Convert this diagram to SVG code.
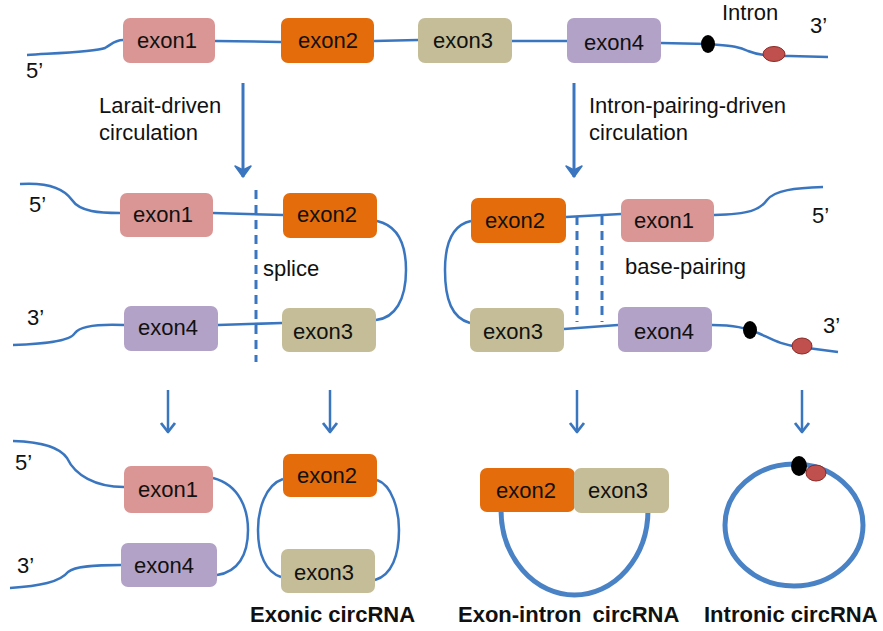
<svg xmlns="http://www.w3.org/2000/svg" width="883" height="631" viewBox="0 0 883 631">
<style>
.e1{fill:#d99694}.e2{fill:#e46c0a}.e3{fill:#c4bd97}.e4{fill:#b3a2c7}
.t{font-family:"Liberation Sans",Arial,sans-serif;font-size:22px;fill:#111}
.lbl{text-anchor:middle}
.b{font-family:"Liberation Sans",Arial,sans-serif;font-size:22px;font-weight:bold;fill:#111}
.ln{fill:none;stroke:#3a76c0;stroke-width:2.5}
.thick{fill:none;stroke:#4a82c6;stroke-width:5}
.dash{fill:none;stroke:#3a76c0;stroke-width:3;stroke-dasharray:9 6}
.ar{fill:none;stroke:#3a76c0;stroke-width:3}
</style>
<defs>
<marker id="ah" markerUnits="userSpaceOnUse" markerWidth="20" markerHeight="20" viewBox="-12 -10 14 20" refX="0" refY="0" orient="auto">
<path d="M-11,-8 L0,0 L-11,8 L-7,0 Z" fill="#3a76c0" stroke="#3a76c0" stroke-width="1.5" stroke-linejoin="round"/>
</marker>
<marker id="av" markerUnits="userSpaceOnUse" markerWidth="20" markerHeight="20" viewBox="-12 -10 14 20" refX="0" refY="0" orient="auto">
<path d="M-9,-7 L0,0 L-9,7" fill="none" stroke="#3a76c0" stroke-width="2.8" stroke-linejoin="round"/>
</marker>
</defs>
<rect width="883" height="631" fill="#fff"/>

<g id="connectors">
<path class="ln" d="M27,55 C60,53 95,52 105,48 C112,44 115,40 123,40"/>
<path class="ln" d="M215,41 L281,42"/>
<path class="ln" d="M374,41 L418,40"/>
<path class="ln" d="M512,41 L567,41"/>
<path class="ln" d="M661,43 L708,44 C730,46 738,46 748,51 C758,55 768,56 790,56 L828,57"/>
<path class="ar" d="M243,83 L243,177" marker-end="url(#ah)"/>
<path class="ar" d="M574,83 L574,177" marker-end="url(#ah)"/>
<path class="ln" d="M20,184 C50,182 65,190 72,200 C80,212 100,213 120,213"/>
<path class="ln" d="M213,213 L283,215"/>
<path class="ln" d="M377,221 C395,225 406,240 406,270 C406,300 395,318 376,320"/>
<path class="ln" d="M124,325 C100,324 80,326 75,333 C70,342 40,344 13,345"/>
<path class="ln" d="M218,325 L282,323"/>
<path class="dash" d="M256,190 L256,362"/>
<path class="ln" d="M471,221 C452,225 445,245 445,270 C445,300 452,318 470,323"/>
<path class="ln" d="M566,217 L621,214"/>
<path class="ln" d="M714,215 C750,214 760,210 767,200 C775,190 795,188 823,187"/>
<path class="ln" d="M564,329 L618,325"/>
<path class="ln" d="M712,325 C735,325 745,328 758,333 C770,338 780,345 800,347 L838,352"/>
<path class="dash" d="M577,216 L577,322"/>
<path class="dash" d="M602,216 L602,322"/>
<path class="ln" d="M168,390 L168,432" marker-end="url(#av)"/>
<path class="ln" d="M330,390 L330,432" marker-end="url(#av)"/>
<path class="ln" d="M577,390 L577,432" marker-end="url(#av)"/>
<path class="ln" d="M802,390 L802,432" marker-end="url(#av)"/>
<path class="ln" d="M13,441 C45,442 60,448 67,458 C75,475 95,487 124,487"/>
<path class="ln" d="M213,478 C240,485 248,510 248,530 C248,555 238,572 217,575"/>
<path class="ln" d="M121,565 C95,565 75,566 68,572 C60,582 40,586 10,588"/>
<path class="ln" d="M283,479 C265,485 258,510 258,530 C258,555 266,572 281,577"/>
<path class="ln" d="M377,480 C392,485 399,510 399,530 C399,555 392,575 375,580"/>
<path class="thick" d="M501,510 A73.5,85 0 0 0 648,510"/>
<ellipse class="thick" cx="794" cy="525" rx="69" ry="61"/>
</g>

<g id="top-exon1"><rect class="e1" x="123" y="18" width="92" height="45" rx="7"/><text class="t lbl" x="167" y="48">exon1</text></g>
<g id="top-exon2"><rect class="e2" x="281" y="18" width="93" height="45" rx="7"/><text class="t lbl" x="328" y="48">exon2</text></g>
<g id="top-exon3"><rect class="e3" x="418" y="18" width="94" height="45" rx="7"/><text class="t lbl" x="463" y="48">exon3</text></g>
<g id="top-exon4"><rect class="e4" x="567" y="18" width="94" height="45" rx="7"/><text class="t lbl" x="614" y="50">exon4</text></g>
<g id="top-intron">
<ellipse cx="708" cy="44" rx="7" ry="9" fill="#000"/>
<ellipse cx="774" cy="54" rx="11" ry="7.5" fill="#c0504d" stroke="#8b2a26" stroke-width="1"/>
</g>

<g id="ml-exon1"><rect class="e1" x="120" y="193" width="93" height="44" rx="7"/><text class="t lbl" x="163" y="222">exon1</text></g>
<g id="ml-exon2"><rect class="e2" x="283" y="193" width="94" height="45" rx="7"/><text class="t lbl" x="327" y="222">exon2</text></g>
<g id="ml-exon4"><rect class="e4" x="124" y="306" width="94" height="45" rx="7"/><text class="t lbl" x="168" y="335">exon4</text></g>
<g id="ml-exon3"><rect class="e3" x="282" y="308" width="94" height="44" rx="7"/><text class="t lbl" x="323" y="339">exon3</text></g>

<g id="mr-exon2"><rect class="e2" x="471" y="198" width="95" height="45" rx="7"/><text class="t lbl" x="515" y="228">exon2</text></g>
<g id="mr-exon1"><rect class="e1" x="621" y="199" width="93" height="43" rx="7"/><text class="t lbl" x="664" y="228">exon1</text></g>
<g id="mr-exon3"><rect class="e3" x="470" y="308" width="94" height="44" rx="7"/><text class="t lbl" x="513" y="339">exon3</text></g>
<g id="mr-exon4"><rect class="e4" x="618" y="307" width="94" height="45" rx="7"/><text class="t lbl" x="664" y="339">exon4</text></g>
<g id="mr-intron">
<ellipse cx="750" cy="330" rx="7" ry="9" fill="#000"/>
<ellipse cx="802" cy="346" rx="10" ry="8" fill="#c0504d" stroke="#8b2a26" stroke-width="1"/>
</g>

<g id="bl-exon1"><rect class="e1" x="124" y="466" width="89" height="47" rx="7"/><text class="t lbl" x="168" y="497">exon1</text></g>
<g id="bl-exon4"><rect class="e4" x="121" y="543" width="96" height="44" rx="7"/><text class="t lbl" x="164" y="573">exon4</text></g>
<g id="ex-exon2"><rect class="e2" x="283" y="454" width="94" height="43" rx="7"/><text class="t lbl" x="327" y="483">exon2</text></g>
<g id="ex-exon3"><rect class="e3" x="281" y="549" width="94" height="44" rx="7"/><text class="t lbl" x="324" y="580">exon3</text></g>

<g id="ei-exon2"><rect class="e2" x="480" y="468" width="95" height="44" rx="7"/><text class="t lbl" x="526" y="498">exon2</text></g>
<g id="ei-exon3"><rect class="e3" x="574" y="468" width="95" height="45" rx="7"/><text class="t lbl" x="618" y="498">exon3</text></g>

<g id="in-intron">
<ellipse cx="799" cy="466" rx="8" ry="10" fill="#000"/>
<ellipse cx="816" cy="473" rx="10" ry="8" fill="#c0504d" stroke="#8b2a26" stroke-width="1"/>
</g>

<g id="labels">
<text class="t" x="26" y="78">5’</text>
<text class="t" x="722" y="20">Intron</text>
<text class="t" x="810" y="33">3’</text>
<text class="t" x="99" y="113">Larait-driven</text>
<text class="t" x="99" y="140">circulation</text>
<text class="t" x="589" y="113">Intron-pairing-driven</text>
<text class="t" x="589" y="140">circulation</text>
<text class="t" x="29" y="212">5’</text>
<text class="t" x="27" y="325">3’</text>
<text class="t" x="263" y="276">splice</text>
<text class="t" x="812" y="223">5’</text>
<text class="t" x="823" y="333">3’</text>
<text class="t" x="625" y="274">base-pairing</text>
<text class="t" x="15" y="470">5’</text>
<text class="t" x="17" y="573">3’</text>
<text class="b" x="250" y="622">Exonic circRNA</text>
<text class="b" x="458" y="622" word-spacing="5">Exon-intron circRNA</text>
<text class="b" x="704" y="622">Intronic circRNA</text>
</g>
</svg>
